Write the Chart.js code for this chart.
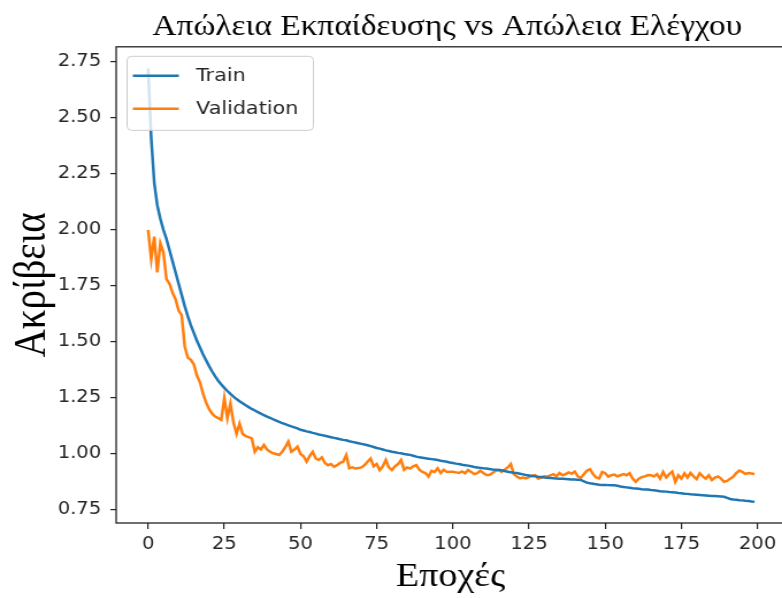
<!DOCTYPE html>
<html>
<head>
<meta charset="utf-8">
<script src="https://cdn.jsdelivr.net/npm/chart.js@4.4.1/dist/chart.umd.min.js"></script>
<style>
  html, body { margin: 0; padding: 0; width: 782px; height: 598px; overflow: hidden; background: #fff; }
  #wrap { width: 778px; height: 598px; transform: scaleX(1.15); transform-origin: 0 0; }
</style>
</head>
<body>
<div id="wrap"><canvas id="lossChart" width="778" height="598"></canvas></div>
<script>
// values, one per epoch (0..199)
const trainLoss = [
  2.72, 2.41, 2.21, 2.11, 2.05, 2.00, 1.96, 1.91, 1.86, 1.81,
  1.76, 1.71, 1.66, 1.615, 1.575, 1.54, 1.505, 1.475, 1.445, 1.418,
  1.392, 1.368, 1.346, 1.327, 1.31, 1.295, 1.281, 1.268, 1.256, 1.245,
  1.235, 1.226, 1.217, 1.209, 1.201, 1.194, 1.187, 1.18, 1.173, 1.167,
  1.161, 1.155, 1.149, 1.143, 1.138, 1.133, 1.128, 1.123, 1.119, 1.114,
  1.108, 1.105, 1.101, 1.098, 1.094, 1.091, 1.087, 1.084, 1.081, 1.078,
  1.075, 1.072, 1.069, 1.066, 1.063, 1.061, 1.057, 1.054, 1.051, 1.048,
  1.045, 1.042, 1.039, 1.035, 1.031, 1.027, 1.024, 1.02, 1.016, 1.013,
  1.01, 1.008, 1.005, 1.003, 1.0, 0.998, 0.996, 0.992, 0.988, 0.985,
  0.983, 0.981, 0.979, 0.977, 0.975, 0.973, 0.97, 0.968, 0.965, 0.962,
  0.96, 0.957, 0.955, 0.952, 0.95, 0.948, 0.945, 0.942, 0.94, 0.938,
  0.936, 0.935, 0.933, 0.931, 0.93, 0.929, 0.927, 0.924, 0.921, 0.918,
  0.916, 0.915, 0.912, 0.909, 0.906, 0.904, 0.902, 0.9, 0.898, 0.897,
  0.895, 0.894, 0.893, 0.892, 0.89, 0.889, 0.889, 0.888, 0.887, 0.886,
  0.886, 0.885, 0.884, 0.878, 0.872, 0.869, 0.867, 0.865, 0.863, 0.862,
  0.862, 0.861, 0.86, 0.86, 0.858, 0.855, 0.853, 0.851, 0.849, 0.847,
  0.846, 0.845, 0.843, 0.842, 0.841, 0.839, 0.838, 0.836, 0.834, 0.833,
  0.832, 0.83, 0.829, 0.828, 0.826, 0.825, 0.823, 0.822, 0.82, 0.819,
  0.818, 0.817, 0.816, 0.815, 0.814, 0.813, 0.812, 0.811, 0.81, 0.809,
  0.804, 0.799, 0.797, 0.796, 0.794, 0.793, 0.791, 0.79, 0.788, 0.787
];

const valLoss = [
  2.00, 1.87, 1.97, 1.81, 1.94, 1.90, 1.78, 1.76, 1.72, 1.69,
  1.64, 1.62, 1.48, 1.43, 1.42, 1.40, 1.35, 1.32, 1.27, 1.23,
  1.20, 1.18, 1.167, 1.16, 1.152, 1.25, 1.16, 1.225, 1.14, 1.09,
  1.135, 1.09, 1.08, 1.075, 1.07, 1.01, 1.03, 1.02, 1.04, 1.02,
  1.01, 1.003, 1.0, 0.995, 1.01, 1.03, 1.055, 1.01, 1.02, 1.033,
  1.0, 0.99, 0.966, 0.99, 1.01, 0.98, 0.973, 0.985, 0.96, 0.95,
  0.955, 0.943, 0.95, 0.96, 0.965, 0.995, 0.936, 0.94, 0.935, 0.937,
  0.94, 0.95, 0.965, 0.98, 0.945, 0.955, 0.928, 0.945, 0.973, 0.94,
  0.928, 0.945, 0.955, 0.973, 0.93, 0.94, 0.935, 0.945, 0.95, 0.93,
  0.92, 0.915, 0.899, 0.925, 0.92, 0.936, 0.915, 0.93, 0.92, 0.921,
  0.921, 0.918, 0.915, 0.922, 0.914, 0.929, 0.92, 0.91, 0.914, 0.925,
  0.915, 0.906, 0.906, 0.915, 0.925, 0.929, 0.92, 0.93, 0.94, 0.955,
  0.91, 0.899, 0.891, 0.895, 0.891, 0.897, 0.903, 0.906, 0.89, 0.895,
  0.9, 0.899, 0.905, 0.91, 0.9, 0.915, 0.905, 0.91, 0.918, 0.912,
  0.921, 0.9, 0.893, 0.91, 0.925, 0.932, 0.91, 0.895, 0.891, 0.92,
  0.914, 0.899, 0.905, 0.908, 0.9, 0.905, 0.91, 0.905, 0.914, 0.89,
  0.876, 0.89, 0.897, 0.9, 0.906, 0.905, 0.9, 0.91, 0.89, 0.92,
  0.895, 0.91, 0.921, 0.876, 0.905, 0.89, 0.914, 0.895, 0.915, 0.9,
  0.888, 0.914, 0.9, 0.89, 0.905, 0.884, 0.895, 0.9, 0.89, 0.876,
  0.88, 0.89, 0.898, 0.915, 0.926, 0.92, 0.911, 0.915, 0.913, 0.911
];

const seriesNames = ['Train', 'Validation'];
const seriesColors = ['#1f77b4', '#ff7f0e'];
const xTicks = [0, 25, 50, 75, 100, 125, 150, 175, 200];
const yTicks = [0.75, 1.00, 1.25, 1.50, 1.75, 2.00, 2.25, 2.50, 2.75];

const titleText = 'Απώλεια Εκπαίδευσης vs Απώλεια Ελέγχου';
const xTitle = 'Εποχές';
const yTitle = 'Ακρίβεια';

const toPoints = arr => arr.map((v, i) => ({ x: i, y: v }));

// frame round the plot area (matplotlib spines)
const framePlugin = {
    id: 'frame',
    afterDatasetsDraw(chart) {
        const { ctx, chartArea: a } = chart;
        ctx.save();
        ctx.strokeStyle = '#222';
        ctx.lineWidth = 1.3;
        ctx.strokeRect(a.left, a.top, a.right - a.left, a.bottom - a.top);
        ctx.restore();
    }
};

// legend box in the upper left corner of the axes
const legendPlugin = {
    id: 'boxLegend',
    afterDatasetsDraw(chart) {
        const { ctx, chartArea: a } = chart;
        const x = a.left + 9.5, y = a.top + 9.5, w = 162, h = 74, r = 4;
        ctx.save();
        ctx.beginPath();
        ctx.roundRect(x, y, w, h, r);
        ctx.fillStyle = 'rgba(255,255,255,0.8)';
        ctx.fill();
        ctx.strokeStyle = '#cccccc';
        ctx.lineWidth = 1;
        ctx.stroke();
        ctx.font = '18px "DejaVu Sans"';
        ctx.textBaseline = 'middle';
        chart.data.datasets.forEach((ds, i) => {
            const cy = y + 19.5 + i * 33;
            ctx.strokeStyle = ds.borderColor;
            ctx.lineWidth = 2.5;
            ctx.beginPath();
            ctx.moveTo(x + 5, cy);
            ctx.lineTo(x + 45, cy);
            ctx.stroke();
            ctx.fillStyle = '#262626';
            ctx.fillText(ds.label, x + 60, cy + 1);
        });
        ctx.restore();
    }
};

const ctx = document.getElementById('lossChart').getContext('2d');
const lossChart = new Chart(ctx, {
    type: 'line',
    data: {
        datasets: [trainLoss, valLoss].map((arr, i) => ({
            label: seriesNames[i],
            data: toPoints(arr),
            borderColor: seriesColors[i],
            backgroundColor: seriesColors[i],
            borderWidth: 2.5,
            pointRadius: 0,
            tension: 0,
            fill: false
        }))
    },
    options: {
        responsive: false,
        devicePixelRatio: 1,
        animation: false,
        layout: { padding: 0 },
        plugins: {
            legend: { display: false },
            tooltip: { enabled: false },
            title: {
                display: true,
                text: titleText,
                color: '#000',
                font: { family: '"Liberation Serif"', size: 29, weight: 'normal' },
                padding: { top: 10, bottom: 2 }
            }
        },
        scales: {
            x: {
                type: 'linear',
                min: -10.5,
                max: 209,
                afterBuildTicks: s => { s.ticks = xTicks.map(v => ({ value: v })); },
                afterFit: s => { s.height = 75; },
                grid: { display: true, drawOnChartArea: false, drawTicks: true, tickLength: 6, color: '#222', lineWidth: 1.2 },
                border: { display: false },
                ticks: { color: '#262626', font: { family: '"DejaVu Sans"', size: 17 }, padding: 5, maxRotation: 0 },
                title: {
                    display: true,
                    text: xTitle,
                    color: '#000',
                    font: { family: '"Liberation Serif"', size: 33 },
                    padding: { top: 0, bottom: 1 }
                }
            },
            y: {
                min: 0.692,
                max: 2.817,
                afterBuildTicks: s => { s.ticks = yTicks.map(v => ({ value: v })); },
                afterFit: s => { s.width = 101; },
                grid: { display: true, drawOnChartArea: false, drawTicks: true, tickLength: 5, color: '#222', lineWidth: 1.2 },
                border: { display: false },
                ticks: { color: '#262626', font: { family: '"DejaVu Sans"', size: 17 }, padding: 8, callback: v => v.toFixed(2) },
                title: {
                    display: true,
                    text: yTitle,
                    color: '#000',
                    font: { family: '"Liberation Serif"', size: 39 },
                    padding: { top: 5, bottom: 0 }
                }
            },
            // empty strip on the right, beyond the visible window
            yRight: {
                position: 'right',
                afterFit: s => { s.width = 95.4; },
                grid: { display: false },
                border: { display: false },
                ticks: { display: false }
            }
        }
    },
    plugins: [framePlugin, legendPlugin]
});
</script>
</body>
</html>
